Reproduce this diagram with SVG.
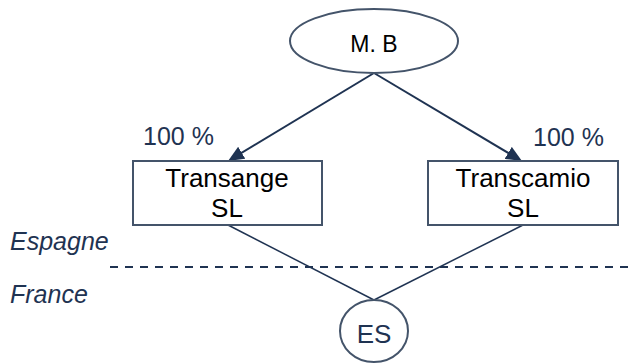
<svg xmlns="http://www.w3.org/2000/svg" width="632" height="364" viewBox="0 0 632 364">
<defs>
<style>
.shape{fill:#fff;stroke:#44546a;stroke-width:2}
.edge{stroke:#1f3352;stroke-width:2;fill:none}
.thin{stroke:#1f3352;stroke-width:1.5;fill:none}
.lbl{font-family:"Liberation Sans",Arial,sans-serif;fill:#000;text-anchor:middle}
.navy{font-family:"Liberation Sans",Arial,sans-serif;fill:#1f3352}
.reg{font-style:italic}
</style>
<marker id="ah" viewBox="0 0 16 14" refX="8" refY="7" markerWidth="16" markerHeight="14" markerUnits="userSpaceOnUse" orient="auto">
<path d="M0,0 L16,7 L0,14 z" fill="#1f3352"/>
</marker>
</defs>
<rect width="632" height="364" fill="#fff"/>
<g id="connectors">
<line class="edge" x1="374" y1="73" x2="234.9" y2="156.9" marker-end="url(#ah)"/>
<line class="edge" x1="374" y1="73" x2="515.1" y2="157" marker-end="url(#ah)"/>
<line class="thin" x1="228" y1="225" x2="374" y2="300"/>
<line class="thin" x1="523" y1="225" x2="374" y2="300"/>
</g>
<line x1="110" y1="267" x2="632" y2="267" stroke="#1f3352" stroke-width="2" stroke-dasharray="8,7"/>
<g id="mb">
<ellipse class="shape" cx="374" cy="41" rx="84" ry="32"/>
<text class="lbl" x="374" y="52" font-size="23">M. B</text>
</g>
<g id="transange">
<rect class="shape" x="133" y="161" width="189" height="64"/>
<text class="lbl" x="227" y="187" font-size="26">Transange</text>
<text class="lbl" x="227" y="217" font-size="26">SL</text>
</g>
<g id="transcamio">
<rect class="shape" x="428" y="161" width="190" height="64"/>
<text class="lbl" x="523" y="187" font-size="26">Transcamio</text>
<text class="lbl" x="523" y="217" font-size="26">SL</text>
</g>
<g id="es">
<ellipse class="shape" cx="374" cy="331" rx="34" ry="31"/>
<text class="navy" x="374" y="343" font-size="26" text-anchor="middle">ES</text>
</g>
<text class="navy" x="143" y="145" font-size="25">100 %</text>
<text class="navy" x="533" y="146" font-size="25">100 %</text>
<text class="navy reg" x="10" y="250" font-size="25">Espagne</text>
<text class="navy reg" x="10" y="303" font-size="25">France</text>
</svg>
